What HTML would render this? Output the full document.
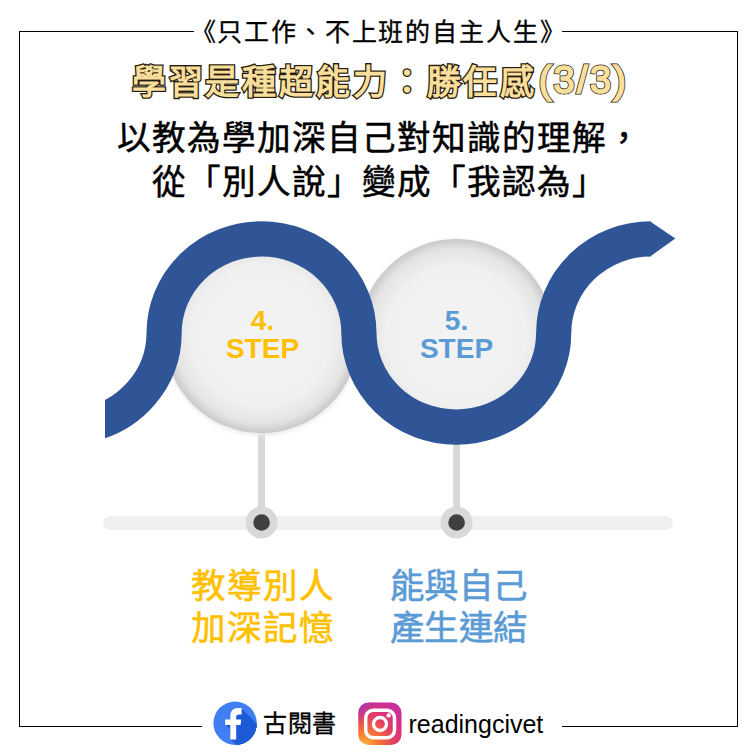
<!DOCTYPE html>
<html lang="zh-TW">
<head>
<meta charset="utf-8">
<style>
html,body{margin:0;padding:0;background:#fff;}
body{width:756px;height:756px;position:relative;overflow:hidden;font-family:"Liberation Sans",sans-serif;}
.abs{position:absolute;white-space:nowrap;}
.ln{position:absolute;background:#000;}
#sub{left:190.5px;top:14.5px;font-size:25px;letter-spacing:1.85px;-webkit-text-stroke:0.3px #000;line-height:34px;color:#000;}
.title{left:131.8px;top:56.1px;font-size:34px;line-height:50px;font-weight:bold;letter-spacing:2.85px;}
#titleS{color:#241c0e;-webkit-text-stroke:2.6px #241c0e;}
#titleF{color:#FADF9C;}
#titleF .num{font-weight:normal;-webkit-text-stroke:1.7px #FADF9C;}
#titleS .num{font-weight:normal;-webkit-text-stroke:3.2px #241c0e;}
.num{letter-spacing:2.3px;margin-left:1.5px;font-size:38px;position:relative;top:-1px;}
#l1{left:116.5px;top:117px;font-size:33.6px;letter-spacing:1px;line-height:44px;color:#000;-webkit-text-stroke:0.5px #000;}
#l2{left:152px;top:160.5px;font-size:33.6px;letter-spacing:1px;line-height:44px;color:#000;-webkit-text-stroke:0.5px #000;}
.step{position:absolute;width:120px;text-align:center;font-weight:bold;font-size:28px;line-height:28.5px;}
.lab{position:absolute;font-size:34.5px;line-height:42px;-webkit-text-stroke:0.6px currentColor;}
#fbt{left:263px;top:707px;font-size:24px;line-height:34px;color:#000;-webkit-text-stroke:0.35px #000;letter-spacing:0.5px;}
#igt{left:408.5px;top:706.5px;font-size:25px;line-height:34px;color:#000;}
</style>
</head>
<body>
<!-- frame -->
<div class="ln" style="left:19px;top:31px;width:175px;height:1.4px"></div>
<div class="ln" style="left:562px;top:31px;width:176px;height:1.4px"></div>
<div class="ln" style="left:19px;top:31px;width:1.4px;height:696px"></div>
<div class="ln" style="left:736.6px;top:31px;width:1.4px;height:696px"></div>
<div class="ln" style="left:19px;top:726px;width:183px;height:1.4px"></div>
<div class="ln" style="left:562px;top:726px;width:176px;height:1.4px"></div>

<div id="sub" class="abs">《只工作、不上班的自主人生》</div>
<div id="titleS" class="abs title">學習是種超能力：勝任感<span class="num">(3/3)</span></div>
<div id="titleF" class="abs title">學習是種超能力：勝任感<span class="num">(3/3)</span></div>
<div id="l1" class="abs">以教為學加深自己對知識的理解，</div>
<div id="l2" class="abs">從「別人說」變成「我認為」</div>

<svg width="756" height="756" style="position:absolute;left:0;top:0">
  <defs>
    <radialGradient id="cg" cx="50%" cy="50%" r="50%">
      <stop offset="0%" stop-color="#f3f3f3"/>
      <stop offset="72%" stop-color="#f0f0f0"/>
      <stop offset="90%" stop-color="#e4e4e4"/>
      <stop offset="100%" stop-color="#c9c9c9"/>
    </radialGradient>
    <filter id="sh" x="-20%" y="-20%" width="140%" height="140%"><feGaussianBlur stdDeviation="2"/></filter>
    <clipPath id="wc"><rect x="105" y="0" width="651" height="756"/></clipPath>
  </defs>
  <!-- timeline bar -->
  <rect x="103" y="516" width="570" height="14" rx="7" fill="#f0f0f0"/>
  <!-- connectors -->
  <rect x="258" y="420" width="7" height="100" fill="#d9d9d9"/>
  <rect x="453" y="420" width="7" height="100" fill="#d9d9d9"/>
  <circle cx="261.6" cy="522.5" r="16" fill="#d9d9d9"/>
  <circle cx="261.6" cy="522.5" r="8.3" fill="#404040"/>
  <circle cx="456.6" cy="522.5" r="16" fill="#d9d9d9"/>
  <circle cx="456.6" cy="522.5" r="8.3" fill="#404040"/>
  <!-- circles -->
  <circle cx="261.5" cy="337.5" r="97.5" fill="#e8e8e8" filter="url(#sh)"/>
  <circle cx="456.3" cy="337.5" r="97.5" fill="#e8e8e8" filter="url(#sh)"/>
  <circle cx="261.5" cy="336" r="97" fill="url(#cg)"/>
  <circle cx="456.3" cy="336" r="97" fill="url(#cg)"/>
  <!-- wave -->
  <g clip-path="url(#wc)">
  <path d="M 83.6 425.4 A 97.4 94.1 0 0 0 164.1 333 A 97.4 94.1 0 0 1 358.9 333 A 97.4 94.1 0 0 0 553.7 333 A 97.4 94.1 0 0 1 651.1 238.9"
        fill="none" stroke="#2F5597" stroke-width="35.2"/>
  </g>
  <polygon points="650.6,221.65 675.3,238.6 650.6,256.15" fill="#2F5597"/>
</svg>

<div class="step" style="left:202.5px;top:306.7px;color:#FFC000">4.<br>STEP</div>
<div class="step" style="left:396.5px;top:306.7px;color:#5B9BD5">5.<br>STEP</div>

<div class="lab abs" style="left:190.5px;top:565px;color:#FFC000;letter-spacing:2.2px">教導別人<br>加深記憶</div>
<div class="lab abs" style="left:390px;top:565px;color:#5B9BD5;letter-spacing:0.3px">能與自己<br>產生連結</div>

<!-- footer icons -->
<svg width="756" height="756" style="position:absolute;left:0;top:0">
  <defs><path id="fpath" d="M230.3 739.6 V725.1 H225.2 V719.6 H230.3 V716.2 C230.3 710.9 233.2 708 238 708 H241.6 V714.4 H239 C236.9 714.4 236.2 715.4 236.2 717.3 V719.6 H241.2 L240.5 725.1 H236.2 V739.6 Z"/><clipPath id="fbc"><circle cx="235.1" cy="723.2" r="21.7"/></clipPath></defs>
  <circle cx="235.1" cy="723.2" r="21.7" fill="#3F7EF3"/>
  <g clip-path="url(#fbc)" fill="#1D5BD6"><use href="#fpath" x="1" y="1"/><use href="#fpath" x="2" y="2"/><use href="#fpath" x="3" y="3"/><use href="#fpath" x="4" y="4"/><use href="#fpath" x="5" y="5"/><use href="#fpath" x="6" y="6"/><use href="#fpath" x="7" y="7"/><use href="#fpath" x="8" y="8"/><use href="#fpath" x="9" y="9"/><use href="#fpath" x="10" y="10"/><use href="#fpath" x="11" y="11"/><use href="#fpath" x="12" y="12"/><use href="#fpath" x="13" y="13"/><use href="#fpath" x="14" y="14"/><use href="#fpath" x="15" y="15"/><use href="#fpath" x="16" y="16"/><use href="#fpath" x="17" y="17"/><use href="#fpath" x="18" y="18"/><use href="#fpath" x="19" y="19"/><use href="#fpath" x="20" y="20"/><use href="#fpath" x="21" y="21"/><use href="#fpath" x="22" y="22"/><use href="#fpath" x="23" y="23"/><use href="#fpath" x="24" y="24"/><use href="#fpath" x="25" y="25"/><use href="#fpath" x="26" y="26"/><use href="#fpath" x="27" y="27"/><use href="#fpath" x="28" y="28"/><use href="#fpath" x="29" y="29"/><use href="#fpath" x="30" y="30"/><use href="#fpath" x="31" y="31"/><use href="#fpath" x="32" y="32"/><use href="#fpath" x="33" y="33"/><use href="#fpath" x="34" y="34"/><use href="#fpath" x="35" y="35"/></g>
  <use href="#fpath" fill="#fff"/>
</svg>
<div id="fbt" class="abs">古閱書</div>
<svg width="44" height="44" viewBox="0 0 44 44" style="position:absolute;left:358px;top:701.5px">
  <defs>
    <radialGradient id="igr" cx="15%" cy="100%" r="120%">
      <stop offset="0%" stop-color="#fdb33b"/>
      <stop offset="25%" stop-color="#f7772f"/>
      <stop offset="55%" stop-color="#e4405f"/>
      <stop offset="80%" stop-color="#d62e8a"/>
      <stop offset="100%" stop-color="#c22fa5"/>
    </radialGradient>
    <linearGradient id="igp" x1="0" y1="0" x2="0.6" y2="0.6">
      <stop offset="0%" stop-color="#7a3bc0" stop-opacity="0.85"/>
      <stop offset="45%" stop-color="#a53bb0" stop-opacity="0"/>
    </linearGradient>
  </defs>
  <rect x="0.3" y="0.4" width="43.2" height="42.6" rx="10.5" fill="url(#igr)"/>
  <rect x="0.3" y="0.4" width="43.2" height="42.6" rx="10.5" fill="url(#igp)"/>
  <rect x="7.7" y="8.2" width="28.8" height="27.6" rx="7.5" fill="none" stroke="#fff" stroke-width="3.5"/>
  <circle cx="22" cy="22" r="6.5" fill="none" stroke="#fff" stroke-width="3.3"/>
  <circle cx="30.7" cy="13.4" r="2.2" fill="#fff"/>
</svg>
<div id="igt" class="abs">readingcivet</div>
</body>
</html>
